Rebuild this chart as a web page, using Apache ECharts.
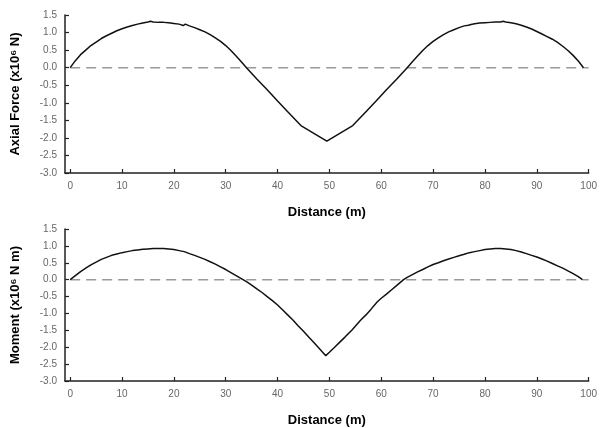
<!DOCTYPE html>
<html><head><meta charset="utf-8">
<script src="https://cdn.jsdelivr.net/npm/echarts@6/dist/echarts.min.js"></script>
<style>html,body{margin:0;padding:0;background:#fff}#c{width:600px;height:428px}</style>
</head><body><div id="c"></div>
<script>
// Axial force (x10^6 N) vs distance (m)
const forceDist = [0,1,2,3,4,5,6,7,8,9,10,11,12,13,14,15,15.5,16,17,18,19,20,21,21.8,22.2,23,24,25,26,27,28,29,30,31,32,33,34,36,38,40,42,44.5,49.5,54.5,57,59,61,63,65,66,67,68,69,70,71,72,73,74,75,76,76.8,77,77.3,78,79,80,81,82,83,83.5,84,85,86,87,88,89,90,91,91.8,92,93,94,95,96,97,98,99];
const forceVal  = [0,0.2,0.37,0.5,0.63,0.73,0.83,0.91,0.98,1.05,1.11,1.16,1.2,1.24,1.27,1.3,1.32,1.3,1.29,1.29,1.28,1.26,1.24,1.2,1.24,1.19,1.14,1.08,1.02,0.94,0.85,0.75,0.63,0.49,0.33,0.17,0,-0.32,-0.63,-0.95,-1.26,-1.65,-2.09,-1.65,-1.26,-0.95,-0.63,-0.32,0,0.17,0.33,0.49,0.63,0.75,0.85,0.94,1.02,1.08,1.14,1.19,1.21,1.17,1.23,1.25,1.27,1.28,1.29,1.3,1.3,1.32,1.3,1.28,1.25,1.21,1.16,1.1,1.03,0.96,0.9,0.92,0.81,0.72,0.61,0.49,0.35,0.19,0];
// Moment (x10^6 N m) vs distance (m)
const momentDist = [0,1,2,3,4,5,6,7,8,9,10,11,12,13,14,15,16,17,18,19,20,21,22,22.3,23,24,25,26,27,28,29,30,31,32,33,34,35,36,37,38,39,40,41,42,43,44,45,46,47,48,49.3,50,51,52,53,54.4,56,57,58,59.2,60,61,62,63,64.3,65,66,67,68,69,70,71,72,73,74,75,76,77,78,79,80,81,82,83,84,85,86,87,88,89,90,91,92,93,94,95,96,97,98,98.8];
const momentVal  = [0,0.12,0.24,0.34,0.44,0.52,0.6,0.66,0.72,0.76,0.8,0.83,0.86,0.88,0.9,0.91,0.92,0.925,0.92,0.91,0.89,0.86,0.83,0.8,0.77,0.72,0.66,0.6,0.53,0.46,0.38,0.3,0.21,0.12,0.03,-0.06,-0.16,-0.27,-0.38,-0.5,-0.62,-0.75,-0.9,-1.05,-1.2,-1.37,-1.53,-1.7,-1.86,-2.03,-2.25,-2.15,-2.0,-1.85,-1.7,-1.48,-1.2,-1.05,-0.88,-0.66,-0.55,-0.43,-0.3,-0.17,0,0.07,0.15,0.23,0.3,0.38,0.45,0.5,0.56,0.61,0.66,0.71,0.75,0.8,0.83,0.86,0.89,0.91,0.92,0.92,0.91,0.89,0.86,0.82,0.77,0.72,0.67,0.61,0.55,0.48,0.41,0.34,0.26,0.18,0.09,0];
const xTicks = [0,10,20,30,40,50,60,70,80,90,100];
const zeroLine = [[0,0],[100,0]];
const yNames = ['Axial Force (x10\u2076 N)', 'Moment (x10\u2076 N m)'];
const xName = 'Distance (m)';

const font = 'Liberation Sans, Arial, sans-serif';
function xAxis(i){
  return {gridIndex:i,type:'value',min:-1,max:100,name:xName,nameLocation:'middle',nameGap:33,
    nameTextStyle:{fontWeight:'bold',fontSize:13,color:'#000',fontFamily:font},
    axisLine:{onZero:false,lineStyle:{color:'#222',width:1.5}},
    axisTick:{inside:true,length:4,customValues:xTicks,lineStyle:{color:'#222',width:1.2}},
    axisLabel:{customValues:xTicks,margin:8,fontSize:10,color:'#666',fontFamily:font},
    splitLine:{show:false}};
}
function yAxis(i){
  return {gridIndex:i,type:'value',min:-3,max:1.5,interval:0.5,name:yNames[i],nameLocation:'middle',nameGap:43,
    nameTextStyle:{fontWeight:'bold',fontSize:13,color:'#000',fontFamily:font},
    axisLine:{show:true,onZero:false,lineStyle:{color:'#222',width:1.5}},
    axisTick:{show:true,inside:true,length:4,lineStyle:{color:'#222',width:1.2}},
    axisLabel:{margin:8,fontSize:10,color:'#666',fontFamily:font,formatter:v=>v.toFixed(1)},
    splitLine:{show:false}};
}
function zip(a,b){return a.map((x,i)=>[x,b[i]]);}
const chart = echarts.init(document.getElementById('c'),null,{renderer:'canvas'});
chart.setOption({
  animation:false,
  grid:[{left:65,right:7,top:15,height:158},{left:65,right:7,top:229,height:158}],
  xAxis:[xAxis(0),xAxis(1)],
  yAxis:[yAxis(0),yAxis(1)],
  series:[
    {type:'line',xAxisIndex:0,yAxisIndex:0,data:zeroLine,symbol:'none',lineStyle:{color:'#999',width:1.5,type:[10,6]},z:1},
    {type:'line',xAxisIndex:1,yAxisIndex:1,data:zeroLine,symbol:'none',lineStyle:{color:'#999',width:1.5,type:[10,6]},z:1},
    {type:'line',xAxisIndex:0,yAxisIndex:0,data:zip(forceDist,forceVal),symbol:'none',lineStyle:{color:'#111',width:1.5},z:2},
    {type:'line',xAxisIndex:1,yAxisIndex:1,data:zip(momentDist,momentVal),symbol:'none',lineStyle:{color:'#111',width:1.5},z:2}
  ]
});
</script></body></html>
